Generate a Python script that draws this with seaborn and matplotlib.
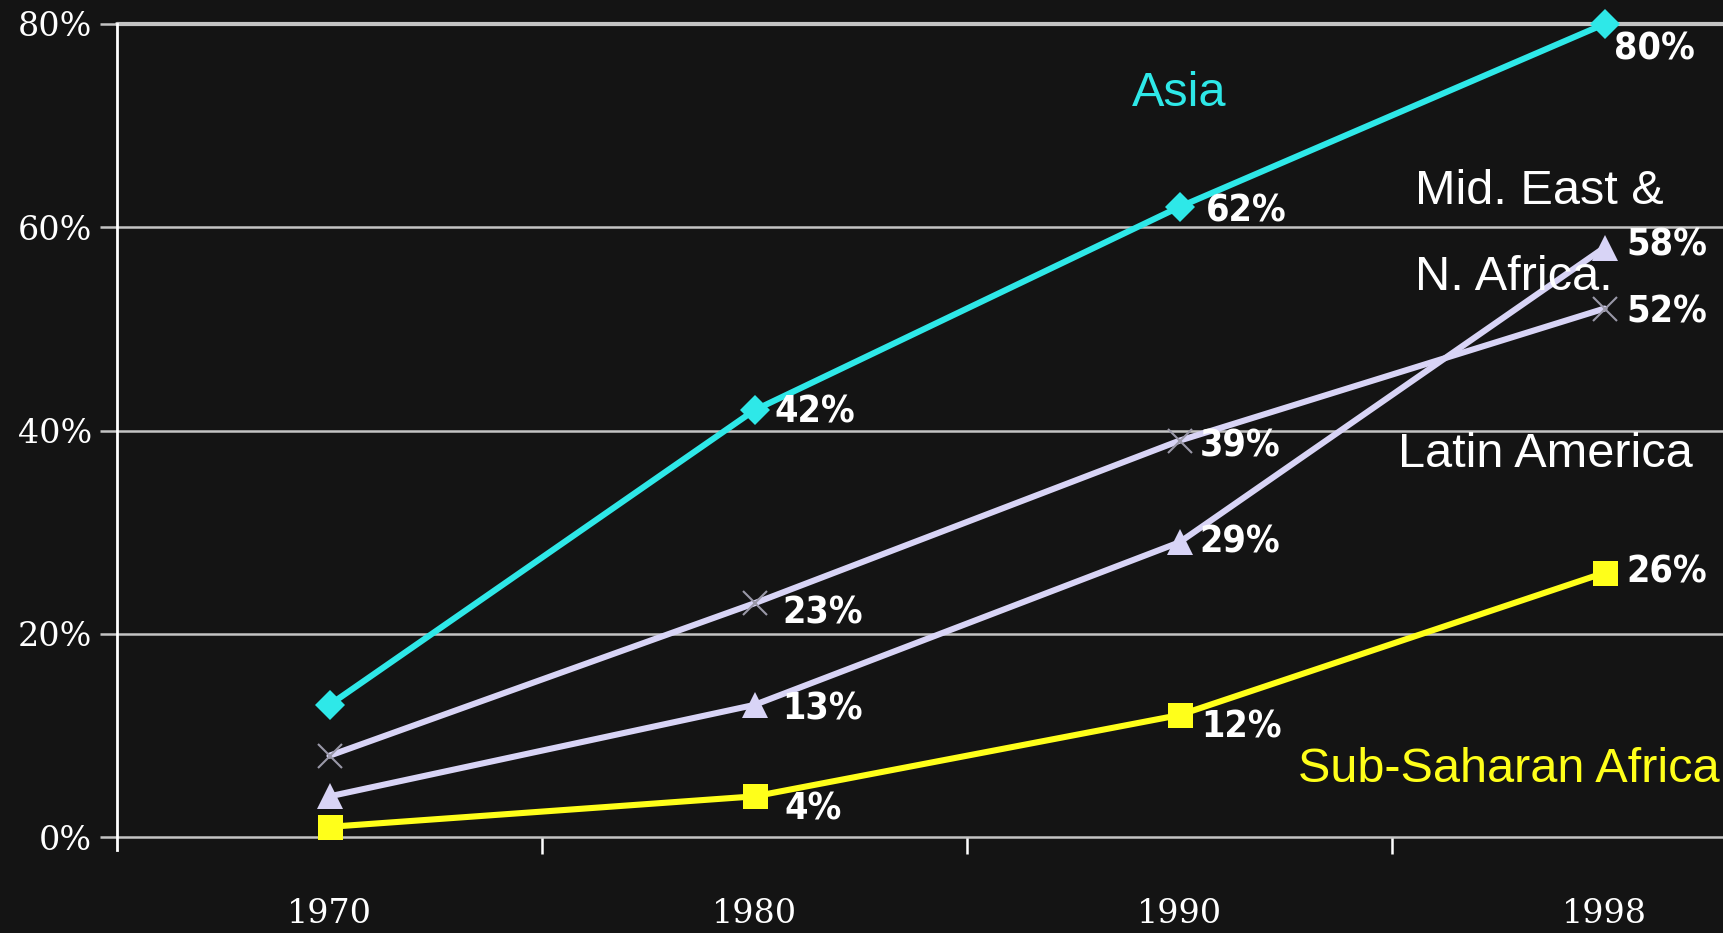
import numpy as np
import pandas as pd
import matplotlib
matplotlib.use("Agg")
import matplotlib.pyplot as plt
import seaborn as sns
from matplotlib.ticker import FixedLocator, FuncFormatter
from matplotlib import font_manager as fm

years = ["1970", "1980", "1990", "1998"]
asia = [13, 42, 62, 80]
latin_america = [8, 23, 39, 52]
mideast_nafrica = [4, 13, 29, 58]
ssa = [1, 4, 12, 26]
yticks = [0, 20, 40, 60, 80]

BG = "#141414"
sns.set_theme(style="dark")
plt.rcParams["font.family"] = ["DejaVu Sans"]

names = {f.name for f in fm.fontManager.ttflist}
if "Liberation Sans Narrow" in names:
    LAB_FONT = dict(family="Liberation Sans Narrow", fontweight="bold", fontsize=29)
else:
    LAB_FONT = dict(family="DejaVu Sans", fontstretch="condensed", fontweight="bold", fontsize=27)

fig = plt.figure(figsize=(17.23, 9.33), dpi=100, facecolor=BG)
ax = fig.add_axes([117 / 1723, 96 / 933, 1 - 117 / 1723, (837 - 24) / 933])
ax.set_facecolor(BG)

series = [
    ("Asia", asia, "#2EE8E8", "D", 15, None),
    ("Latin America", latin_america, "#D8D4F6", "x", 17, "#9a98a8"),
    ("Mid. East & N. Africa", mideast_nafrica, "#D8D4F6", "^", 19, None),
    ("Sub-Saharan Africa", ssa, "#FFFF1A", "s", 18, None),
]

for v in yticks:
    ax.axhline(v, color="#c4c4c4", lw=3 if v == 80 else 1.8, zorder=1, clip_on=False)

for name, vals, col, mk, ms, mec in series:
    df = pd.DataFrame({"year": years, "value": vals})
    sns.lineplot(data=df, x="year", y="value", ax=ax, color=col, lw=4.4,
                 marker=mk, markersize=ms, markeredgecolor=mec if mec else col,
                 markeredgewidth=1.5 if mk == "x" else 0, sort=False, zorder=3,
                 clip_on=False)

lab_off = {
    "Asia": [None, (20, -2), (26, -5), (10, -26)],
    "Latin America": [None, (28, -10), (20, -6), (22, -4)],
    "Mid. East & N. Africa": [None, (28, -5), (20, 0), (22, 2)],
    "Sub-Saharan Africa": [None, (30, -13), (22, -12), (22, 0)],
}
for name, vals, col, mk, ms, mec in series:
    for i, v in enumerate(vals):
        off = lab_off[name][i]
        if off is None:
            continue
        ax.annotate(f"{v}%", (i, v), xytext=off, textcoords="offset pixels",
                    ha="left", va="center", color="white", zorder=5,
                    annotation_clip=False, **LAB_FONT)

ax.set_xlim(-0.5, (1723 - 117) / 425 - 0.5)
ax.set_ylim(0, 80)
ax.set_xlabel("")
ax.set_ylabel("")

ax.yaxis.set_major_locator(FixedLocator(yticks))
ax.yaxis.set_major_formatter(FuncFormatter(lambda v, p: f"{int(v)}%"))
ax.tick_params(axis="y", colors="white", labelsize=24, length=12, width=1.8,
               pad=6, left=True, color="#c4c4c4")
for t in ax.get_yticklabels():
    t.set_family("DejaVu Serif")

ax.set_xticks(range(len(years)))
ax.set_xticklabels(years)
ax.tick_params(axis="x", which="major", length=0, pad=44, labelsize=24,
               labelcolor="white")
for t in ax.get_xticklabels():
    t.set_family("DejaVu Serif")
ax.xaxis.set_minor_locator(FixedLocator([0.5, 1.5, 2.5]))
ax.tick_params(axis="x", which="minor", length=12, width=1.8, color="white",
               bottom=True)

for s in ["top", "right", "bottom"]:
    ax.spines[s].set_visible(False)
ax.spines["left"].set_color("white")
ax.spines["left"].set_linewidth(2)
ax.spines["left"].set_bounds(-1.3, 80)
ax.grid(False)

def ftext(xpx, ypx, s, color, ha="left"):
    fig.text(xpx / 1723, 1 - ypx / 933, s, color=color, fontsize=35,
             family="Liberation Sans", ha=ha, va="center", zorder=6)

ftext(1179, 93, "Asia", "#2EE8E8", ha="center")
ftext(1415, 191, "Mid. East &", "white")
ftext(1415, 277, "N. Africa.", "white")
ftext(1398, 455, "Latin America", "white")
ftext(1298, 769, "Sub-Saharan Africa", "#FFFF1A")

fig.savefig("out.png", dpi=100, facecolor=BG)
